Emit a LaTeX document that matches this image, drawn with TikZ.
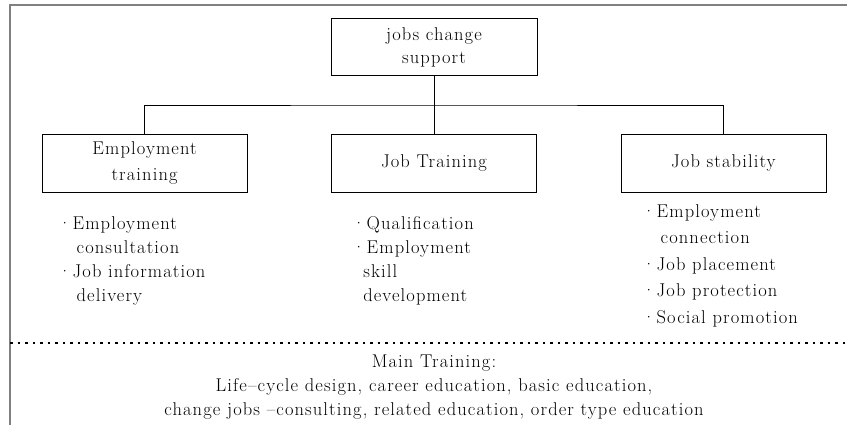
\documentclass[tikz,border=0pt]{standalone}
\usepackage{fontspec}
\setmainfont{Latin Modern Roman}[LetterSpace=6]
\usetikzlibrary{positioning}
\begin{document}
\begin{tikzpicture}[x=1pt,y=-1pt,font=\fontsize{18.5}{24}\selectfont]
	% Styles
	\tikzstyle{topbox} = [rectangle, draw=black, minimum width=206pt, minimum height=57pt, text centered, align=center, inner sep=0pt, font=\fontsize{18.5}{23}\selectfont]
	\tikzstyle{branch} = [rectangle, draw=black, minimum width=205pt, minimum height=58pt, text centered, align=center, inner sep=0pt, font=\fontsize{18.5}{26}\selectfont]
	\tikzstyle{items} = [anchor=north west, align=left, inner sep=0pt]
	\tikzstyle{frame} = [gray, line width=1.5pt]
	\tikzstyle{divider} = [line width=2.5pt, dash pattern=on 2.5pt off 5pt]
	\useasboundingbox (0,0) rectangle (847,425);
	% Frame
	\coordinate (frameB) at (10,425);
	\coordinate (frameC) at (10,5);
	\coordinate (frameR) at (847,5);
	\draw [frame] (frameB) -- (frameC) -- (frameR);
	% Boxes
	\node (support) [topbox] at (434,47) {jobs change\\support};
	\node (training) [branch] at (434,163) {Job Training};
	\node (employ) [branch, left=84pt of training] {Employment\\training};
	\node (stability) [branch, right=84pt of training] {Job stability};
	% Lists
	\node (employList) [items] at (58,216) {·Employment\\\hspace*{1em}consultation\\·Job information\\\hspace*{1em}delivery};
	\node (trainList) [items] at (352,216) {·Qualification\\·Employment\\\hspace*{0.6em}skill\\\hspace*{0.6em}development};
	\node (stabList) [items, font=\fontsize{18.5}{26.5}\selectfont] at (642,204) {·Employment\\\hspace*{1em}connection\\·Job placement\\·Job protection\\·Social promotion};
	% Connectors
	\coordinate (bar) at (434,105);
	\draw (support) -- (training);
	\draw (employ.north) |- (bar) -| (stability.north);
	% Divider
	\coordinate (divL) at (10,343);
	\coordinate (divR) at (847,343);
	\draw [divider] (divL) -- (divR);
	% Main training
	\node (main) [align=center] at (434,387) {Main Training:\\Life--cycle design, career education, basic education,\\change jobs --consulting, related education, order type education};
\end{tikzpicture}
\end{document}
